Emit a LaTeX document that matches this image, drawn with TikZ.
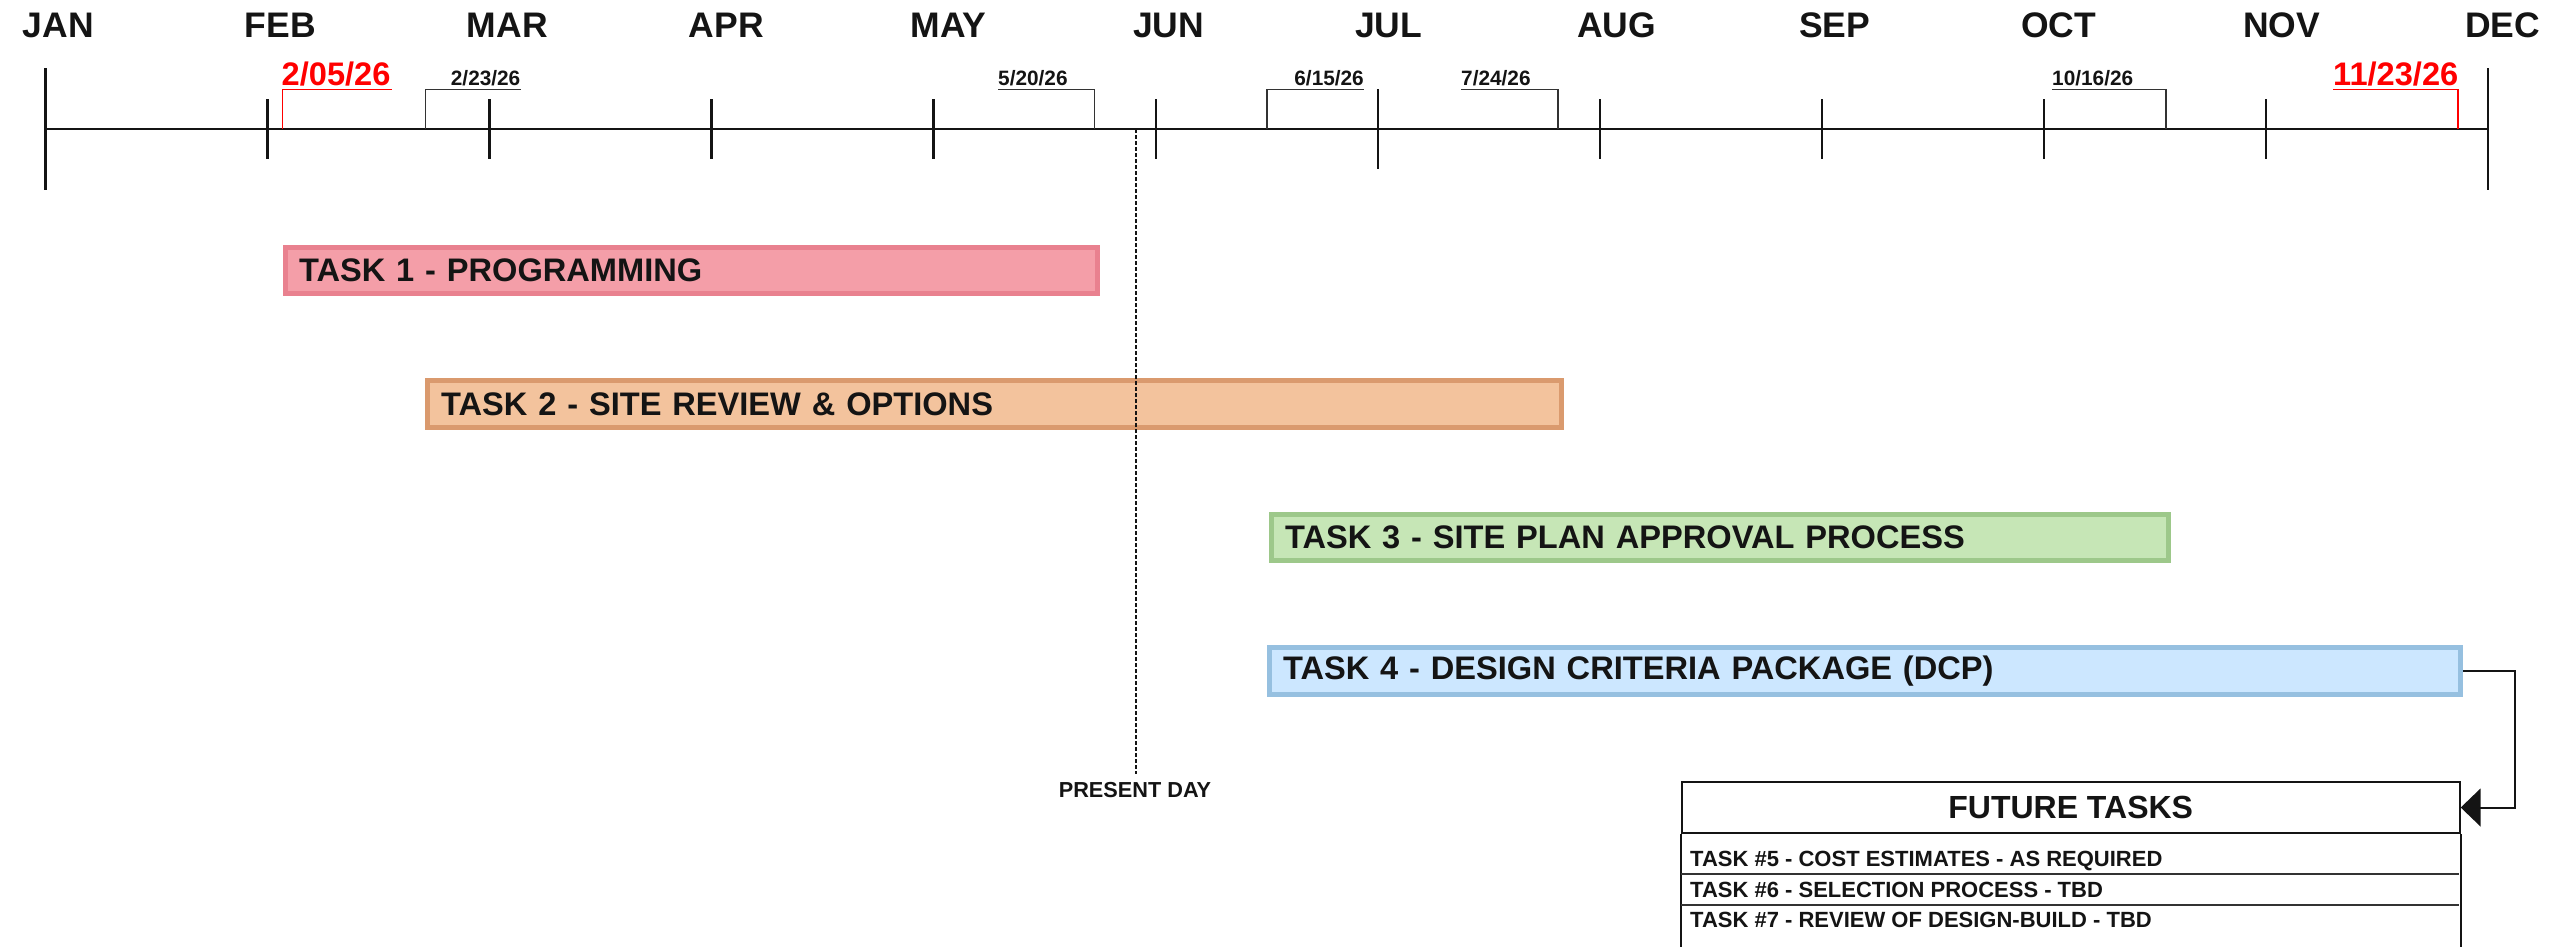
\documentclass[tikz,border=0pt]{standalone}
\usepackage{fontspec}
\setmainfont{Liberation Sans}
\usetikzlibrary{arrows.meta}
\definecolor{pinkF}{HTML}{F49EA8}
\definecolor{pinkD}{HTML}{E9818F}
\definecolor{orangeF}{HTML}{F3C39D}
\definecolor{orangeD}{HTML}{DA9A6E}
\definecolor{greenF}{HTML}{C6E6B6}
\definecolor{greenD}{HTML}{9DC88A}
\definecolor{blueF}{HTML}{CCE7FF}
\definecolor{blueD}{HTML}{96C0E0}
\definecolor{ink}{HTML}{141414}
\tikzset{
  month/.style={anchor=base west, inner sep=0pt, text=ink, font=\fontsize{35.5}{40}\selectfont\bfseries},
  bigdate/.style={anchor=base west, inner sep=0pt, text=red, font=\fontsize{32.6}{38}\selectfont\bfseries},
  smalldate/.style={inner sep=0pt, text=ink, font=\fontsize{20.8}{25}\selectfont\bfseries},
  taskbar/.style 2 args={draw=#2, fill=#1, line width=5pt, anchor=north west,
     inner xsep=14pt, inner ysep=0pt, align=left, minimum height=46.4pt, text=ink,
     font=\fontsize{32.6}{38}\selectfont\bfseries},
  tickline/.style={line width=2.6pt, draw=ink},
  bracket/.style={line width=1.6pt, draw=black!80},
  redbracket/.style={line width=1.3pt, draw=red},
  presentline/.style={line width=2.6pt, draw=ink, dash pattern=on 4pt off 2pt},
  boxline/.style={line width=2pt, draw=ink},
  sepline/.style={line width=1.5pt, draw=black!80},
  rowtext/.style={anchor=base west, inner sep=0pt, text=ink, font=\fontsize{22}{26}\selectfont\bfseries},
  conn/.style={line width=2pt, draw=ink, -{Triangle[length=20pt, width=38pt]}},
}
\begin{document}
\begin{tikzpicture}[x=1pt, y=-1pt]
\useasboundingbox (0,0) rectangle (2552,946);
\clip (0,0) rectangle (2552,946);

% months
\foreach \m [count=\i from 0] in {JAN,FEB,MAR,APR,MAY,JUN,JUL,AUG,SEP,OCT,NOV,DEC}{
  \coordinate (m\i) at ({45.6+222.04*\i},129);
  \node[month] (lab\i) at ({45.6+222.04*\i-23},37) {\m};
}
\draw[tickline] (m0) -- (m11);
\foreach \i in {1,2,3,4,5,7,8,9,10}{
  \draw[tickline] (m\i) ++(0,-30) -- ++(0,60);
}
\draw[tickline] (m6) ++(0,-40) -- ++(0,80);
\draw[tickline] (m0) ++(0,-61) -- ++(0,122);
\draw[tickline] (m11) ++(0,-61) -- ++(0,122);

% date brackets
\node[bigdate] (d1) at (281.5,85) {2/05/26};
\draw[redbracket] (282.6,129) |- (392,89.3);
\node[smalldate, anchor=base east] (d2) at (520.5,85) {2/23/26};
\draw[bracket] (425.4,129) |- (520.5,89.3);
\node[smalldate, anchor=base west] (d3) at (998,85) {5/20/26};
\draw[bracket] (998,89.3) -| (1094.4,129);
\node[smalldate, anchor=base east] (d4) at (1364,85) {6/15/26};
\draw[bracket] (1267,129) |- (1364,89.3);
\node[smalldate, anchor=base west] (d5) at (1461,85) {7/24/26};
\draw[bracket] (1461,89.3) -| (1558,129);
\node[smalldate, anchor=base west] (d6) at (2052,85) {10/16/26};
\draw[bracket] (2052,89.3) -| (2166,129);
\node[bigdate] (d7) at (2333,85) {11/23/26};
\draw[redbracket] (2333,89.3) -| (2458,129);

% task bars
\node[taskbar={pinkF}{pinkD}, minimum width=812.7pt, text width=784.7pt] (t1) at (282.5,245) {TASK 1 - PROGRAMMING};
\node[taskbar={orangeF}{orangeD}, minimum width=1133.8pt, text width=1105.8pt] (t2) at (424.7,378.2) {TASK 2 - SITE REVIEW \& OPTIONS};
\node[taskbar={greenF}{greenD}, minimum width=897pt, text width=869pt] (t3) at (1268.5,511.5) {TASK 3 - SITE PLAN APPROVAL PROCESS};
\node[taskbar={blueF}{blueD}, minimum width=1191.7pt, text width=1163.7pt] (t4) at (1266.5,645.2) {TASK 4 - DESIGN CRITERIA PACKAGE (DCP)};

% present day
\node[inner sep=0pt, anchor=base, text=ink, font=\fontsize{21.7}{26}\selectfont\bfseries] (pd) at (1135,797.3) {PRESENT DAY};
\draw[presentline] (1136,129) -- (1136,774);

% future tasks box
\node[boxline, draw, anchor=north west, minimum width=778pt, minimum height=51.6pt, inner sep=0pt, text=ink,
      font=\fontsize{32}{38}\selectfont\bfseries] (fth) at (1680.7,780.7) {FUTURE TASKS};
\draw[boxline] (fth.south west) -- ++(0,140);
\draw[boxline] (fth.south east) -- ++(0,140);
\draw[sepline] (1680.7,874) -- (2458.7,874);
\draw[sepline] (1680.7,905) -- (2458.7,905);
\node[rowtext] (r5) at (1690,866) {TASK \#5 - COST ESTIMATES - AS REQUIRED};
\node[rowtext] (r6) at (1690,897.3) {TASK \#6 - SELECTION PROCESS - TBD};
\node[rowtext] (r7) at (1690,927.3) {TASK \#7 - REVIEW OF DESIGN-BUILD - TBD};

% connector
\draw[conn] (t4.east) -- ++(51.5,0) |- (fth.east);
\end{tikzpicture}
\end{document}
